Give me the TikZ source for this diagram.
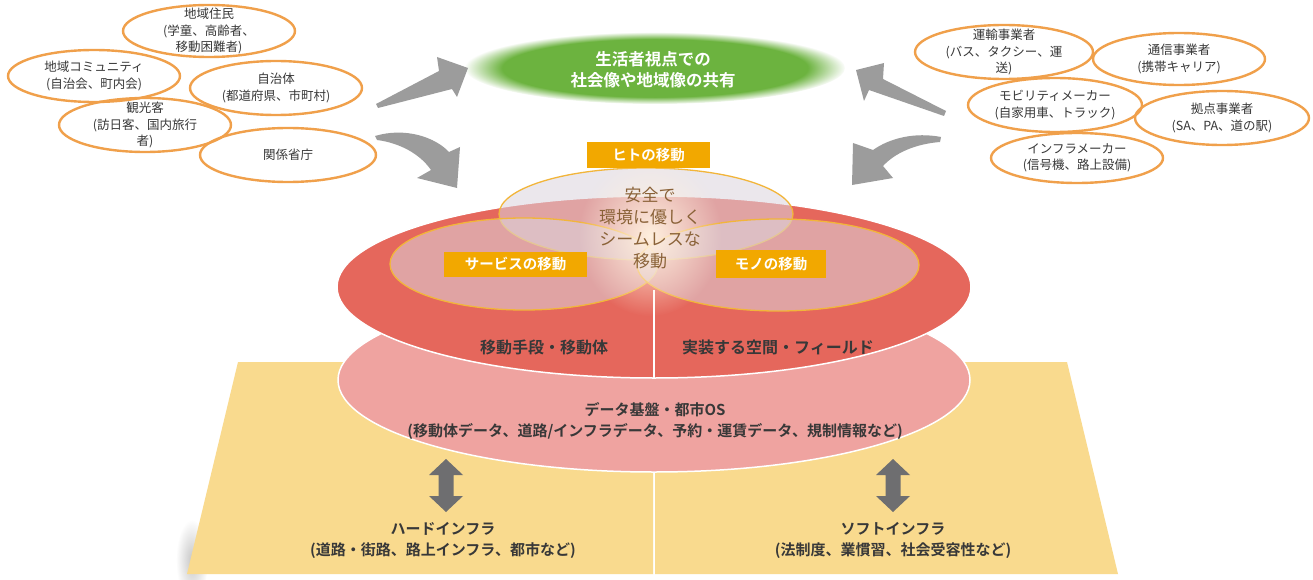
\documentclass[tikz,border=0pt]{standalone}
\usepackage{fontspec}
\setmainfont{Noto Sans CJK JP}[BoldFont={Noto Sans CJK JP Bold}]
\usetikzlibrary{shapes.geometric,fadings}
\definecolor{stakeor}{HTML}{F0A04B}
\definecolor{txtdark}{HTML}{383838}
\definecolor{arrgrey}{HTML}{9C9C9C}
\definecolor{greenc}{HTML}{6CB33F}
\definecolor{redc}{HTML}{E5675C}
\definecolor{pinkc}{HTML}{EFA3A0}
\definecolor{yellowc}{HTML}{F9DA8E}
\definecolor{boxor}{HTML}{F2A800}
\definecolor{vennline}{HTML}{F2B53A}
\definecolor{vennfill}{HTML}{DCD5DE}
\definecolor{centertxt}{HTML}{8A6238}
\definecolor{darrow}{HTML}{6E6E70}
\definecolor{glowc}{HTML}{FFF0DE}
\tikzfading[name=softglow, inner color=transparent!0, outer color=transparent!100]
\tikzset{
  stake/.style={ellipse, draw=stakeor, line width=2.4pt, inner sep=0pt},
  stxt/.style={align=center, font=\fontsize{12.5}{16.5}\selectfont, text=txtdark, inner sep=0pt},
  obox/.style={fill=boxor, text=white, font=\bfseries\fontsize{14.5}{16}\selectfont, inner sep=0pt},
  venn/.style={ellipse, fill=vennfill, fill opacity=0.55, draw=vennline, draw opacity=1, line width=1.3pt, inner sep=0pt},
  dtxt/.style={text=txtdark, font=\bfseries\fontsize{15}{21}\selectfont, align=center, inner sep=0pt},
  gtxt/.style={text=white, font=\bfseries\fontsize{16.5}{21}\selectfont, align=center, inner sep=0pt},
  ctxt/.style={text=centertxt, font=\fontsize{17}{22}\selectfont, align=center, inner sep=0pt},
  garrow/.style={fill=arrgrey}
}
\begin{document}
\begin{tikzpicture}[x=1pt,y=-1pt]
\useasboundingbox (0,0) rectangle (1313,580);
\fill[white] (0,0) rectangle (1313,580);

% ---------- trapezoid base ----------
\fill[black!22, path fading=softglow] (192,560) ellipse (16pt and 40pt);
\fill[yellowc] (238,362) -- (653,362) -- (653,574) -- (187,574) -- cycle;
\fill[yellowc] (655,362) -- (1067,362) -- (1118,574) -- (655,574) -- cycle;

% ---------- data platform ellipse ----------
\node[ellipse, fill=pinkc, draw=white, line width=1.5pt, minimum width=632pt, minimum height=184pt, inner sep=0pt] (data) at (654,380) {};
% ---------- red ellipse ----------
\node[ellipse, fill=redc, draw=white, line width=1.5pt, minimum width=634pt, minimum height=182pt, inner sep=0pt] (field) at (654,287) {};
\draw[white, line width=1.5pt] (654,290) -- (field.south);

% ---------- Venn ----------
\node[venn, minimum width=294pt, minimum height=92pt] (hitoV) at (646,214) {};
\node[venn, minimum width=268pt, minimum height=92pt] (servV) at (524,264) {};
\node[venn, minimum width=282pt, minimum height=92pt] (monoV) at (778,265) {};
\fill[glowc, path fading=softglow] (650,236) ellipse (72pt and 80pt);

\node[ctxt] (center) at (650,228) {安全で\\環境に優しく\\シームレスな\\移動};

\node[obox, minimum width=123pt, minimum height=26pt] (hito) at (648.5,155) {ヒトの移動};
\node[obox, minimum width=143pt, minimum height=25pt] (serv) at (515.5,264.5) {サービスの移動};
\node[obox, minimum width=110pt, minimum height=28pt] (mono) at (771,264) {モノの移動};

\node[dtxt, font=\bfseries\fontsize{16}{20}\selectfont] (shudan) at (544,347) {移動手段・移動体};
\node[dtxt, font=\bfseries\fontsize{16}{20}\selectfont] (kukan) at (778,347) {実装する空間・フィールド};
\node[dtxt] (datatxt) at (655,421) {データ基盤・都市OS\\(移動体データ、道路/インフラデータ、予約・運賃データ、規制情報など)};

% ---------- infra texts ----------
\node[dtxt] (hard) at (443,540) {ハードインフラ\\(道路・街路、路上インフラ、都市など)};
\node[dtxt] (soft) at (893,540) {ソフトインフラ\\(法制度、業慣習、社会受容性など)};

% double arrows
\foreach \cx in {446,893}{
  \fill[darrow] (\cx,459) -- (\cx+17,475) -- (\cx+7.5,475) -- (\cx+7.5,496) -- (\cx+17,496) -- (\cx,512)
     -- (\cx-17,496) -- (\cx-7.5,496) -- (\cx-7.5,475) -- (\cx-17,475) -- cycle;
}

% ---------- green shared-vision ellipse ----------
\fill[greenc, path fading=circle with fuzzy edge 20 percent] (655,68) ellipse (190pt and 36pt);
\node[gtxt] (vision) at (653,70) {生活者視点での\\社会像や地域像の共有};

% ---------- grey arrows ----------
\fill[garrow] (376,104) -- (439,71) -- (437,57) -- (468,68) -- (457,97) -- (452,89) -- (378,108) -- cycle;
\fill[garrow] (375,136) .. controls (405,127) and (435,137) .. (449,152) -- (460,147) -- (457,188) -- (417,178)
   -- (431,170) .. controls (420,154) and (400,143) .. (377,140) -- cycle;
\fill[garrow] (946,111) -- (883,79) -- (884,63) -- (856,70) -- (864,101) -- (869,90) -- (944,116) -- cycle;
\fill[garrow] (941,137) .. controls (915,132) and (890,138) .. (873,150) -- (853,143) -- (852,185) -- (893,178)
   -- (883,166) .. controls (895,153) and (915,144) .. (940,142) -- cycle;

% ---------- stakeholders left ----------
\node[stake, minimum width=172pt, minimum height=52pt] (jumin) at (209,31) {};
\node[stake, minimum width=172pt, minimum height=52pt] (comm) at (94,76) {};
\node[stake, minimum width=172pt, minimum height=54pt] (jichi) at (276,88) {};
\node[stake, minimum width=172pt, minimum height=54pt] (kanko) at (145,125) {};
\node[stake, minimum width=176pt, minimum height=54pt] (shocho) at (288,155) {};
\node[stxt] at (jumin) {地域住民\\(学童、高齢者、\\移動困難者)};
\node[stxt] at (comm) {地域コミュニティ\\(自治会、町内会)};
\node[stxt] at (jichi) {自治体\\(都道府県、市町村)};
\node[stxt] at (kanko) {観光客\\(訪日客、国内旅行\\者)};
\node[stxt] at (shocho) {関係省庁};

% ---------- stakeholders right ----------
\node[stake, minimum width=178pt, minimum height=54pt] (unyu) at (1004,52) {};
\node[stake, minimum width=172pt, minimum height=52pt] (tsushin) at (1179,59) {};
\node[stake, minimum width=174pt, minimum height=54pt] (mobi) at (1055,105) {};
\node[stake, minimum width=174pt, minimum height=54pt] (kyoten) at (1222,118) {};
\node[stake, minimum width=172pt, minimum height=50pt] (infra) at (1077,158) {};
\node[stxt] at (unyu) {運輸事業者\\(バス、タクシー、運\\送)};
\node[stxt] at (tsushin) {通信事業者\\(携帯キャリア)};
\node[stxt] at (mobi) {モビリティメーカー\\(自家用車、トラック)};
\node[stxt] at (kyoten) {拠点事業者\\(SA、PA、道の駅)};
\node[stxt] at (infra) {インフラメーカー\\(信号機、路上設備)};
\end{tikzpicture}
\end{document}
